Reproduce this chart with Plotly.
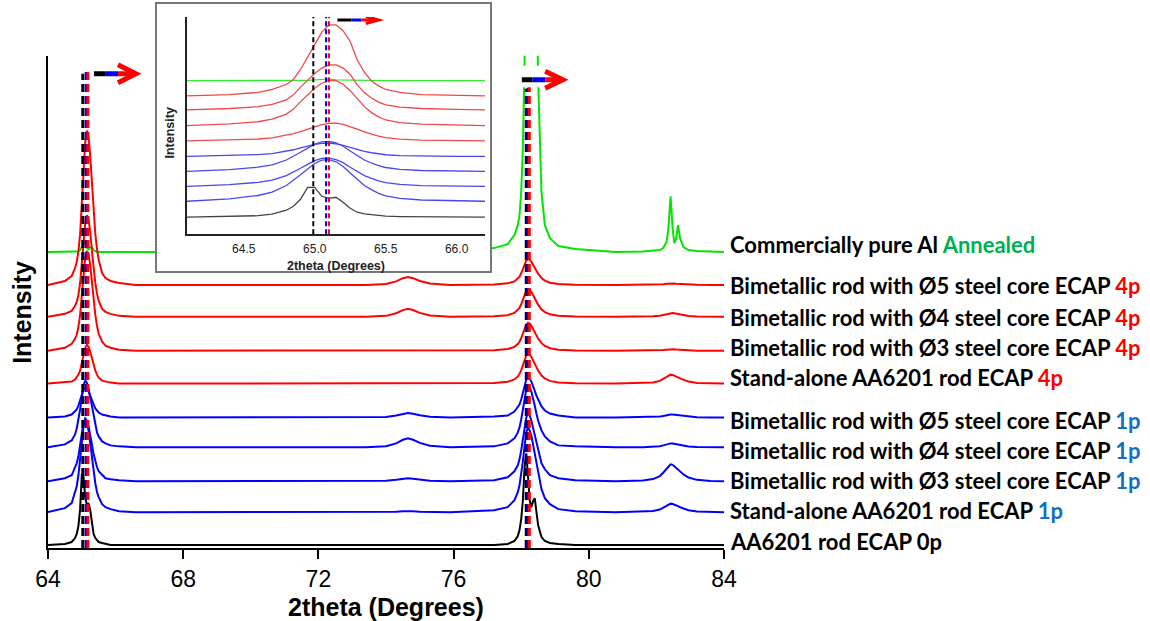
import plotly.graph_objects as go

# ---------------- main chart: shared 2theta grid (degrees) ----------------
two_theta = [
    64.0, 64.5, 64.7, 64.8, 64.85, 64.9, 64.95, 65.0, 65.05, 65.1, 65.15, 65.2,
    65.25, 65.3, 65.35, 65.4, 65.45, 65.5, 65.6, 65.7, 65.85, 66.1, 66.6,
    73.4, 74.0, 74.3, 74.5, 74.65, 74.8, 75.0, 75.3, 75.9,
    77.2, 77.6, 77.8, 77.9, 77.95, 78.0, 78.05, 78.1, 78.15, 78.2, 78.25, 78.3,
    78.35, 78.4, 78.45, 78.5, 78.6, 78.7, 78.85, 79.1, 79.6,
    80.8, 81.6, 81.9, 82.1, 82.2, 82.3, 82.35, 82.42, 82.48, 82.53, 82.58, 82.64,
    82.7, 82.8, 82.95, 83.2, 83.6, 84.0,
]

# intensities (a.u., above each pattern's own baseline)
i_annealed = [0, 0, 0, 0, 0.5, 1, 2, 5, 9, 9, 4, 3, 5, 5, 2, 1, 0, 0, 0, 0, 0, 0, 0,
              0, 0, 0, 0, 0, 0, 0, 0, 0,
              4, 8, 17, 27, 37, 60, 105, 175, 280, 600, 1000, 1200, 1000, 600, 280, 175, 60, 27, 14, 6, 3,
              0, 0.5, 1, 2, 4, 10, 22, 56, 24, 9, 13, 27, 14, 5, 2, 1, 0.5, 0]
i_bi5_4p = [0, 4, 9, 17, 23, 34, 51, 78, 112, 143, 155, 149, 129, 101, 73, 51, 36, 25, 12, 7, 4, 2, 0,
            0, 1, 3.6, 6.8, 8, 6.8, 4, 1.4, 0,
            0.5, 1.6, 3.6, 6.2, 8.3, 11.7, 15.6, 20.3, 24.4, 26, 25.2, 23.4, 20.8, 17.7, 14.3, 11.4, 7, 4.4, 2.3, 1, 0.3,
            0, 0.1, 0.2, 0.5, 0.8, 1.1, 1.3, 1.5, 1.5, 1.4, 1.2, 1.1, 0.9, 0.6, 0.3, 0.1, 0, 0]
i_bi4_4p = [0, 3, 6, 11, 15, 22, 34, 51, 73, 94, 102, 98, 85, 66, 48, 34, 23, 16, 8, 5, 3, 1, 0,
            0, 1, 3.6, 6.8, 8, 6.8, 4, 1.4, 0,
            0.6, 1.7, 3.9, 6.7, 9, 12.6, 16.8, 21.8, 26.3, 28, 27.2, 25.2, 22.4, 19, 15.4, 12.3, 7.6, 4.8, 2.5, 1.1, 0.3,
            0, 0.2, 0.5, 1.2, 2, 3, 3.5, 4, 3.9, 3.6, 3.3, 2.8, 2.3, 1.6, 0.9, 0.3, 0.1, 0]
i_bi3_4p = [0, 3, 7, 12, 16, 24, 36, 53, 74, 93, 100, 97, 86, 68, 50, 36, 25, 17, 9, 5, 3, 1, 0,
            0, 0, 0, 0, 0, 0, 0, 0, 0,
            0.6, 1.7, 3.9, 6.7, 9, 12.6, 16.8, 21.8, 26.3, 28, 27.2, 25.2, 22.4, 19, 15.4, 12.3, 7.6, 4.8, 2.5, 1.1, 0.3,
            0, 0.1, 0.2, 0.5, 0.8, 1.1, 1.3, 1.5, 1.5, 1.4, 1.2, 1.1, 0.9, 0.6, 0.3, 0.1, 0, 0]
i_sa_4p = [0, 1, 2, 4, 6, 9, 13, 20, 28, 36, 39, 37, 32, 25, 18, 13, 9, 6, 3, 2, 1, 0, 0,
           0, 0, 0, 0, 0, 0, 0, 0, 0,
           0.6, 1.8, 4.2, 7.2, 9.6, 13.5, 18, 23.4, 28.2, 30, 29.1, 27, 24, 20.4, 16.5, 13.2, 8.1, 5.1, 2.7, 1.2, 0.3,
           0, 0.4, 1.2, 2.7, 4.5, 6.8, 7.9, 9, 8.7, 8.1, 7.4, 6.3, 5.2, 3.6, 2, 0.7, 0.2, 0]
i_bi5_1p = [0, 1, 3, 6, 8, 12, 17, 23, 28, 30, 29, 26, 22, 17, 13, 9, 7, 5, 3, 2, 1, 0, 0,
            0, 0.5, 2, 3.8, 4.5, 3.8, 2.2, 0.8, 0,
            1, 2, 6, 10, 13, 18, 24, 31, 38, 40, 39, 36, 32, 27, 22, 18, 11, 7, 4, 2, 0,
            0, 0.1, 0.4, 0.9, 1.5, 2.3, 2.6, 3, 2.9, 2.7, 2.5, 2.1, 1.7, 1.2, 0.7, 0.2, 0.1, 0]
i_bi4_1p = [0, 3, 7, 13, 19, 27, 38, 50, 62, 67, 65, 59, 50, 39, 29, 21, 15, 11, 6, 4, 2, 1, 0,
            0, 1.1, 4, 7.6, 9, 7.6, 4.5, 1.6, 0,
            1, 4, 9, 15, 20, 28, 37, 48, 58, 62, 60, 56, 50, 42, 34, 27, 17, 11, 6, 2, 1,
            0, 0.2, 0.5, 1.2, 2, 3, 3.5, 4, 3.9, 3.6, 3.3, 2.8, 2.3, 1.6, 0.9, 0.3, 0.1, 0]
i_bi3_1p = [0, 3, 6, 13, 18, 25, 35, 47, 59, 63, 61, 55, 47, 37, 27, 20, 14, 10, 6, 3, 2, 1, 0,
            0, 0.4, 1.4, 2.6, 3, 2.6, 1.5, 0.5, 0,
            1, 4, 10, 16, 22, 31, 41, 53, 64, 68, 66, 61, 54, 46, 37, 30, 18, 12, 6, 3, 1,
            0, 0.7, 2.2, 5.1, 8.5, 12.8, 15, 17, 16.5, 15.3, 13.9, 11.9, 9.9, 6.8, 3.7, 1.4, 0.3, 0]
i_sa_1p = [0, 4, 9, 19, 26, 37, 52, 70, 86, 93, 90, 82, 69, 54, 40, 29, 20, 15, 8, 5, 3, 1, 0,
           0, 0.2, 0.5, 0.8, 1, 0.8, 0.5, 0.2, 0,
           2, 5, 12, 20, 27, 38, 51, 66, 80, 85, 82, 77, 68, 58, 47, 37, 23, 14, 8, 3, 1,
           0, 0.3, 1.1, 2.6, 4.3, 6.4, 7.5, 8.5, 8.2, 7.7, 7, 6, 4.9, 3.4, 1.9, 0.7, 0.2, 0]
i_0p = [0, 1, 3, 7, 11, 19, 36, 70, 69, 48, 40, 42, 35, 20, 11, 7, 5, 3, 2, 1, 0, 0, 0,
        0, 0, 0, 0, 0, 0, 0, 0, 0,
        0, 1, 4, 9, 15, 26, 45, 78, 92, 70, 45, 38, 44, 47, 35, 20, 8, 4, 2, 1, 0,
        0, 0, 0, 0, 0, 0, 0, 0, 0, 0, 0, 0, 0, 0, 0, 0, 0, 0]

main_intensities = [i_annealed, i_bi5_4p, i_bi4_4p, i_bi3_4p, i_sa_4p,
                    i_bi5_1p, i_bi4_1p, i_bi3_1p, i_sa_1p, i_0p]
stack_offset = [297, 264, 232, 198, 165, 131, 101, 67, 36, 3]

sample_labels = [
    "Commercially pure Al <span style='color:#00b050'>Annealed</span>",
    "Bimetallic rod with Ø5 steel core ECAP <span style='color:#ff0000'>4p</span>",
    "Bimetallic rod with Ø4 steel core ECAP <span style='color:#ff0000'>4p</span>",
    "Bimetallic rod with Ø3 steel core ECAP <span style='color:#ff0000'>4p</span>",
    "Stand-alone AA6201 rod ECAP <span style='color:#ff0000'>4p</span>",
    "Bimetallic rod with Ø5 steel core ECAP <span style='color:#1070c8'>1p</span>",
    "Bimetallic rod with Ø4 steel core ECAP <span style='color:#1070c8'>1p</span>",
    "Bimetallic rod with Ø3 steel core ECAP <span style='color:#1070c8'>1p</span>",
    "Stand-alone AA6201 rod ECAP <span style='color:#1070c8'>1p</span>",
    "AA6201 rod ECAP 0p",
]

# peak reference positions (dashed lines), degrees
ref_peak_0p = [65.03, 78.15]
ref_peak_1p = [65.13, 78.20]
ref_peak_4p = [65.18, 78.24]

# ---------------- inset data ----------------
inset_theta = [64.1, 64.4, 64.6, 64.7, 64.8, 64.85, 64.9, 64.95, 65.0, 65.05, 65.1, 65.15,
               65.2, 65.25, 65.3, 65.35, 65.4, 65.45, 65.5, 65.6, 65.75, 66.0, 66.2]
n_annealed = [0, 0, 0, 0, 0, 0, 0.2, 0.4, 0.8, 1.5, 1.5, 0.8, 0.6, 0.8, 0.5, 0.2, 0, 0, 0, 0, 0, 0, 0]
n_bi5_4p = [0, 1.4, 3.6, 6.5, 11.5, 16.6, 26.6, 39.6, 52.6, 64.1, 71.3, 71.3, 65.5, 54.7, 36, 23.8,
            15.1, 10.1, 6.5, 3.6, 1.4, 0.7, 0]
n_bi4_4p = [0, 1.4, 3.2, 5.5, 10, 15.1, 22.9, 29.7, 36.6, 42, 45.2, 45.2, 42, 35.6, 25.1, 17.4,
            11.9, 7.8, 5, 2.7, 1.4, 0.5, 0]
n_bi3_4p = [0, 1.6, 3.8, 6.4, 11.5, 16.5, 24, 31, 37.5, 42.5, 45.3, 45, 41.5, 35, 26.5, 19,
            13, 8.7, 5.6, 3, 1.5, 0.5, 0]
n_sa_4p = [0, 0.7, 1.8, 3, 5.3, 7.1, 9.2, 11.7, 14.2, 16.3, 17.5, 17.7, 16.6, 14.5, 11.7, 8.9,
           6.4, 4.6, 3.2, 1.6, 0.7, 0.2, 0]
n_bi5_1p = [0, 0.8, 1.9, 2.9, 5.1, 6.7, 8.5, 10.4, 12.1, 13.2, 13.3, 12.6, 11.2, 9, 6.9, 5.1,
            3.7, 2.5, 1.7, 0.9, 0.4, 0.1, 0]
n_bi4_1p = [0, 1.8, 4.2, 6.6, 11.4, 15, 19.2, 23.4, 27.3, 29.7, 30, 28.5, 25.2, 20.4, 15.6, 11.4,
            8.4, 5.7, 3.9, 2.1, 0.9, 0.3, 0]
n_bi3_1p = [0, 1.7, 4, 6.2, 10.8, 14.2, 18.1, 22.1, 25.8, 28, 28.3, 26.9, 23.8, 19.2, 14.7, 10.8,
            7.9, 5.4, 3.7, 2, 0.8, 0.3, 0]
n_sa_1p = [0, 2.5, 5.8, 9.2, 15.8, 20.9, 26.7, 32.5, 37.9, 41.3, 41.7, 39.6, 35, 28.4, 21.7, 15.8,
           11.7, 7.9, 5.4, 2.9, 1.3, 0.4, 0]
n_0p = [0, 0.5, 1.5, 3, 7, 11, 18, 30, 30, 21, 19, 20, 15, 9, 5, 3.3, 2.3, 1.6, 1, 0.6, 0.3, 0, 0]

inset_intensities = [n_annealed, n_bi5_4p, n_bi4_4p, n_bi3_4p, n_sa_4p,
                     n_bi5_1p, n_bi4_1p, n_bi3_1p, n_sa_1p, n_0p]
inset_offset = [154, 138.7, 124.7, 109, 93.7, 78, 63, 48, 33, 17]
inset_ref_0p = [64.99]
inset_ref_1p = [65.08]
inset_ref_4p = [65.10]

main_ticks = [64, 68, 72, 76, 80, 84]
inset_ticks = [64.5, 65.0, 65.5, 66.0]
inset_tick_text = ["64.5", "65.0", "65.5", "66.0"]

# ---------------- styling / layout geometry ----------------
W, H = 1150, 621
ML, MR, MT, MB = 48, 426, 2, 73
PW = W - ML - MR
PH = H - MT - MB


def px_x(p):
    return (p - ML) / PW


def px_y(p):
    return (H - MB - p) / PH


GREEN, RED, BLUE, BLACK = "#00e600", "#ff0000", "#0000ff", "#000000"
main_colors = [GREEN, RED, RED, RED, RED, BLUE, BLUE, BLUE, BLUE, BLACK]
inset_colors = ["#33e833", "#f04848", "#f04848", "#f04848", "#f04848",
                "#4848f0", "#4848f0", "#4848f0", "#4848f0", "#444444"]

fig = go.Figure()

for vals, off, col in zip(main_intensities, stack_offset, main_colors):
    fig.add_trace(go.Scatter(x=two_theta, y=[v + off for v in vals], mode="lines",
                             line=dict(color=col, width=2), hoverinfo="skip",
                             xaxis="x", yaxis="y"))

dash_tops = {"0p": [476, 461], "1p": [481, 462], "4p": [481, 463]}
for key, refs, col in [("0p", ref_peak_0p, BLACK), ("1p", ref_peak_1p, BLUE), ("4p", ref_peak_4p, RED)]:
    for r, top in zip(refs, dash_tops[key]):
        fig.add_trace(go.Scatter(x=[r, r], y=[0, top], mode="lines",
                                 line=dict(color=col, width=3, dash="8px,4px"),
                                 hoverinfo="skip", xaxis="x", yaxis="y"))

# empty helper trace for the inset frame subplot
fig.add_trace(go.Scatter(x=[None], y=[None], xaxis="x2", yaxis="y2", hoverinfo="skip"))

for vals, off, col in zip(inset_intensities, inset_offset, inset_colors):
    fig.add_trace(go.Scatter(x=inset_theta, y=[v + off for v in vals], mode="lines",
                             line=dict(color=col, width=1.3), hoverinfo="skip",
                             xaxis="x3", yaxis="y3"))
for refs, col in [(inset_ref_0p, BLACK), (inset_ref_1p, BLUE), (inset_ref_4p, RED)]:
    for r in refs:
        fig.add_trace(go.Scatter(x=[r, r], y=[0, 218], mode="lines",
                                 line=dict(color=col, width=2, dash="5px,3px"),
                                 hoverinfo="skip", xaxis="x3", yaxis="y3"))


def arrow_shapes(xr, yr, y, xs, back, tip, half, w):
    out = []
    for (a, b), c in zip([(xs[0], xs[1]), (xs[1], xs[2]), (xs[2], xs[3])], [BLACK, BLUE, RED]):
        out.append(dict(type="line", xref=xr, yref=yr, x0=a, x1=b, y0=y, y1=y,
                        line=dict(color=c, width=w), layer="above"))
    out.append(dict(type="path", xref=xr, yref=yr,
                    path=f"M {back},{y + half} L {tip},{y} L {back},{y - half}",
                    line=dict(color=RED, width=w), layer="above"))
    return out


shapes = []
# white patch behind the 78-degree arrow
shapes.append(dict(type="rect", xref="x", yref="y", x0=77.95, x1=79.37, y0=462.5, y1=484,
                   fillcolor="white", line=dict(width=0), layer="above"))
shapes += arrow_shapes("x", "y", 476, [65.36, 65.71, 66.07, 66.47], 66.07, 66.6, 9, 5)
shapes += arrow_shapes("x", "y", 470, [78.02, 78.34, 78.71, 79.18], 78.71, 79.23, 8.5, 5)
shapes += arrow_shapes("x3", "y3", 215, [65.16, 65.26, 65.33, 65.42], 65.36, 65.45, 3.5, 3)

annotations = []
label_y = [304.7, 263, 231.3, 201.3, 170.7, 128, 98, 68, 37.3, 6.3]
for txt, yy in zip(sample_labels, label_y):
    annotations.append(dict(text="<b>" + txt + "</b>", x=px_x(728), xref="paper", y=yy, yref="y",
                            xanchor="left", yanchor="middle", showarrow=False,
                            font=dict(family="Lato", size=22, color="black")))
annotations.append(dict(text="<b>2theta (Degrees)</b>", x=px_x(386), y=px_y(607), xref="paper",
                        yref="paper", showarrow=False, xanchor="center", yanchor="middle",
                        font=dict(family="Liberation Sans", size=25, color="black")))
annotations.append(dict(text="<b>Intensity</b>", x=px_x(22), y=px_y(312), xref="paper",
                        yref="paper", showarrow=False, textangle=-90, xanchor="center",
                        yanchor="middle", font=dict(family="Liberation Sans", size=25, color="black")))
annotations.append(dict(text="<b>2theta (Degrees)</b>", x=px_x(336), y=px_y(265), xref="paper",
                        yref="paper", showarrow=False, xanchor="center", yanchor="middle",
                        font=dict(family="Liberation Sans", size=12.5, color="#222")))
annotations.append(dict(text="<b>Intensity</b>", x=px_x(170), y=px_y(132), xref="paper",
                        yref="paper", showarrow=False, textangle=-90, xanchor="center",
                        yanchor="middle", font=dict(family="Liberation Sans", size=12.5, color="#222")))

fig.update_layout(
    width=W, height=H, autosize=False,
    margin=dict(l=ML, r=MR, t=MT, b=MB, pad=0),
    paper_bgcolor="white", plot_bgcolor="white",
    showlegend=False,
    xaxis=dict(domain=[0, 1], range=[64, 84], tickvals=main_ticks, ticks="outside",
               ticklen=9, tickwidth=2, tickcolor="black", showline=True, linewidth=2,
               linecolor="black", showgrid=False, zeroline=False, anchor="y",
               ticklabelstandoff=0,
               tickfont=dict(family="Liberation Sans Narrow, Arial Narrow, Liberation Sans",
                             size=23, color="black")),
    yaxis=dict(domain=[0, px_y(54)], range=[0, 494], showline=True, linewidth=2,
               linecolor="black", ticks="", showticklabels=False, showgrid=False,
               zeroline=False, anchor="x"),
    xaxis2=dict(domain=[px_x(157), px_x(490)], range=[0, 1], showline=True, mirror=True,
                linecolor="#777777", linewidth=1.5, ticks="", showticklabels=False,
                showgrid=False, zeroline=False, anchor="y2", fixedrange=True),
    yaxis2=dict(domain=[px_y(270), px_y(2)], range=[0, 1], showline=True, mirror=True,
                linecolor="#777777", linewidth=1.5, ticks="", showticklabels=False,
                showgrid=False, zeroline=False, anchor="x2", fixedrange=True),
    xaxis3=dict(domain=[px_x(187), px_x(485)], range=[64.1, 66.2], tickvals=inset_ticks,
                ticktext=inset_tick_text, ticks="", showline=True, linewidth=1.5,
                linecolor="#222222", showgrid=False, zeroline=False, anchor="y3",
                ticklabelstandoff=3,
                tickfont=dict(family="Liberation Sans", size=12, color="#222")),
    yaxis3=dict(domain=[px_y(233), px_y(15)], range=[0, 218], showline=True, linewidth=1.5,
                linecolor="#222222", ticks="", showticklabels=False, showgrid=False,
                zeroline=False, anchor="x3"),
    shapes=shapes,
    annotations=annotations,
)

fig.write_html("out.html", config={"displayModeBar": False},
               post_script="document.body.style.margin='0';document.body.style.overflow='hidden';")
